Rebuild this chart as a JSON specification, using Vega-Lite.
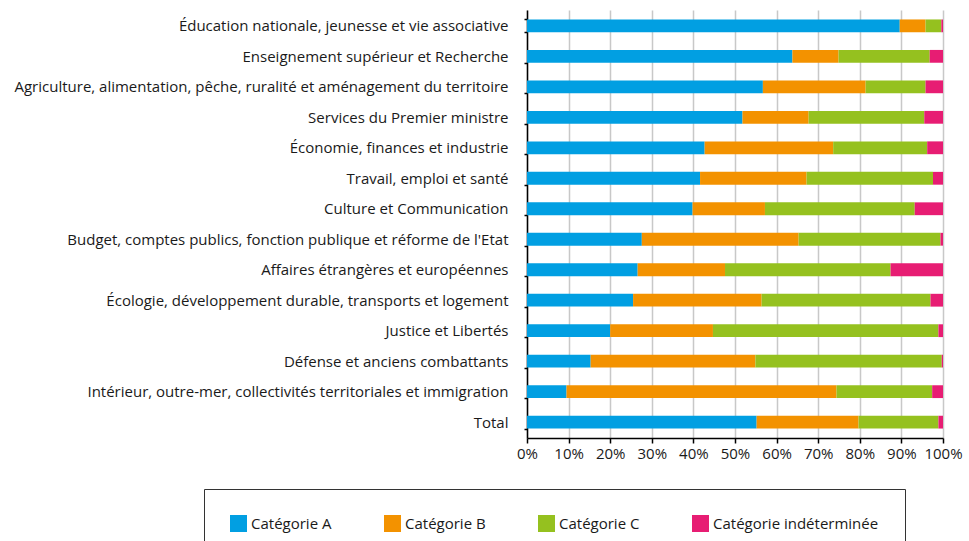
{
  "$schema": "https://vega.github.io/schema/vega-lite/v6.json",
  "width": 416,
  "height": 428,
  "autosize": {"type": "none"},
  "padding": {"left": 527, "top": 10, "right": 26, "bottom": 103},
  "config": {
    "view": {"stroke": null},
    "font": "Open Sans",
    "axis": {"labelFont": "Open Sans", "labelColor": "#1a1a1a", "labelFontSize": 15}
  },
  "data": {
    "values": [
      {"m": "Éducation nationale, jeunesse et vie associative", "cat": "Catégorie A", "o": 1, "v": 89.6},
      {"m": "Éducation nationale, jeunesse et vie associative", "cat": "Catégorie B", "o": 2, "v": 6.2},
      {"m": "Éducation nationale, jeunesse et vie associative", "cat": "Catégorie C", "o": 3, "v": 3.8},
      {"m": "Éducation nationale, jeunesse et vie associative", "cat": "Catégorie indéterminée", "o": 4, "v": 0.4},
      {"m": "Enseignement supérieur et Recherche", "cat": "Catégorie A", "o": 1, "v": 63.8},
      {"m": "Enseignement supérieur et Recherche", "cat": "Catégorie B", "o": 2, "v": 11.1},
      {"m": "Enseignement supérieur et Recherche", "cat": "Catégorie C", "o": 3, "v": 21.9},
      {"m": "Enseignement supérieur et Recherche", "cat": "Catégorie indéterminée", "o": 4, "v": 3.2},
      {"m": "Agriculture, alimentation, pêche, ruralité et aménagement du territoire", "cat": "Catégorie A", "o": 1, "v": 56.7},
      {"m": "Agriculture, alimentation, pêche, ruralité et aménagement du territoire", "cat": "Catégorie B", "o": 2, "v": 24.7},
      {"m": "Agriculture, alimentation, pêche, ruralité et aménagement du territoire", "cat": "Catégorie C", "o": 3, "v": 14.4},
      {"m": "Agriculture, alimentation, pêche, ruralité et aménagement du territoire", "cat": "Catégorie indéterminée", "o": 4, "v": 4.2},
      {"m": "Services du Premier ministre", "cat": "Catégorie A", "o": 1, "v": 51.8},
      {"m": "Services du Premier ministre", "cat": "Catégorie B", "o": 2, "v": 15.9},
      {"m": "Services du Premier ministre", "cat": "Catégorie C", "o": 3, "v": 27.8},
      {"m": "Services du Premier ministre", "cat": "Catégorie indéterminée", "o": 4, "v": 4.5},
      {"m": "Économie, finances et industrie", "cat": "Catégorie A", "o": 1, "v": 42.7},
      {"m": "Économie, finances et industrie", "cat": "Catégorie B", "o": 2, "v": 30.9},
      {"m": "Économie, finances et industrie", "cat": "Catégorie C", "o": 3, "v": 22.6},
      {"m": "Économie, finances et industrie", "cat": "Catégorie indéterminée", "o": 4, "v": 3.8},
      {"m": "Travail, emploi et santé", "cat": "Catégorie A", "o": 1, "v": 41.6},
      {"m": "Travail, emploi et santé", "cat": "Catégorie B", "o": 2, "v": 25.6},
      {"m": "Travail, emploi et santé", "cat": "Catégorie C", "o": 3, "v": 30.4},
      {"m": "Travail, emploi et santé", "cat": "Catégorie indéterminée", "o": 4, "v": 2.4},
      {"m": "Culture et Communication", "cat": "Catégorie A", "o": 1, "v": 39.8},
      {"m": "Culture et Communication", "cat": "Catégorie B", "o": 2, "v": 17.4},
      {"m": "Culture et Communication", "cat": "Catégorie C", "o": 3, "v": 36.0},
      {"m": "Culture et Communication", "cat": "Catégorie indéterminée", "o": 4, "v": 6.8},
      {"m": "Budget, comptes publics, fonction publique et réforme de l'Etat", "cat": "Catégorie A", "o": 1, "v": 27.6},
      {"m": "Budget, comptes publics, fonction publique et réforme de l'Etat", "cat": "Catégorie B", "o": 2, "v": 37.7},
      {"m": "Budget, comptes publics, fonction publique et réforme de l'Etat", "cat": "Catégorie C", "o": 3, "v": 34.1},
      {"m": "Budget, comptes publics, fonction publique et réforme de l'Etat", "cat": "Catégorie indéterminée", "o": 4, "v": 0.6},
      {"m": "Affaires étrangères et européennes", "cat": "Catégorie A", "o": 1, "v": 26.6},
      {"m": "Affaires étrangères et européennes", "cat": "Catégorie B", "o": 2, "v": 21.0},
      {"m": "Affaires étrangères et européennes", "cat": "Catégorie C", "o": 3, "v": 39.8},
      {"m": "Affaires étrangères et européennes", "cat": "Catégorie indéterminée", "o": 4, "v": 12.6},
      {"m": "Écologie, développement durable, transports et logement", "cat": "Catégorie A", "o": 1, "v": 25.5},
      {"m": "Écologie, développement durable, transports et logement", "cat": "Catégorie B", "o": 2, "v": 30.9},
      {"m": "Écologie, développement durable, transports et logement", "cat": "Catégorie C", "o": 3, "v": 40.6},
      {"m": "Écologie, développement durable, transports et logement", "cat": "Catégorie indéterminée", "o": 4, "v": 3.0},
      {"m": "Justice et Libertés", "cat": "Catégorie A", "o": 1, "v": 20.0},
      {"m": "Justice et Libertés", "cat": "Catégorie B", "o": 2, "v": 24.7},
      {"m": "Justice et Libertés", "cat": "Catégorie C", "o": 3, "v": 54.2},
      {"m": "Justice et Libertés", "cat": "Catégorie indéterminée", "o": 4, "v": 1.1},
      {"m": "Défense et anciens combattants", "cat": "Catégorie A", "o": 1, "v": 15.3},
      {"m": "Défense et anciens combattants", "cat": "Catégorie B", "o": 2, "v": 39.6},
      {"m": "Défense et anciens combattants", "cat": "Catégorie C", "o": 3, "v": 44.8},
      {"m": "Défense et anciens combattants", "cat": "Catégorie indéterminée", "o": 4, "v": 0.3},
      {"m": "Intérieur, outre-mer, collectivités territoriales et immigration", "cat": "Catégorie A", "o": 1, "v": 9.5},
      {"m": "Intérieur, outre-mer, collectivités territoriales et immigration", "cat": "Catégorie B", "o": 2, "v": 64.9},
      {"m": "Intérieur, outre-mer, collectivités territoriales et immigration", "cat": "Catégorie C", "o": 3, "v": 23.0},
      {"m": "Intérieur, outre-mer, collectivités territoriales et immigration", "cat": "Catégorie indéterminée", "o": 4, "v": 2.6},
      {"m": "Total", "cat": "Catégorie A", "o": 1, "v": 55.2},
      {"m": "Total", "cat": "Catégorie B", "o": 2, "v": 24.5},
      {"m": "Total", "cat": "Catégorie C", "o": 3, "v": 19.2},
      {"m": "Total", "cat": "Catégorie indéterminée", "o": 4, "v": 1.1}
    ]
  },
  "mark": {"type": "bar"},
  "encoding": {
    "y": {
      "field": "m",
      "type": "nominal",
      "sort": null,
      "title": null,
      "scale": {"paddingInner": 0.58, "paddingOuter": 0.31},
      "axis": {
        "domainColor": "#000000",
        "domainWidth": 1.5,
        "tickColor": "#000000",
        "tickSize": 3,
        "tickWidth": 1.5,
        "tickBand": "extent",
        "labelPadding": 16,
        "labelLimit": 600,
        "grid": false
      }
    },
    "x": {
      "field": "v",
      "type": "quantitative",
      "stack": "normalize",
      "title": null,
      "scale": {"domain": [0, 1], "nice": false},
      "axis": {
        "format": ".0%",
        "values": [0, 0.1, 0.2, 0.3, 0.4, 0.5, 0.6, 0.7, 0.8, 0.9, 1],
        "grid": true,
        "gridColor": "#c8c8c8",
        "gridWidth": 1.5,
        "domainColor": "#000000",
        "domainWidth": 1.5,
        "tickColor": "#000000",
        "tickSize": 5,
        "tickWidth": 1.5,
        "labelPadding": 3,
        "labelFlush": false
      }
    },
    "color": {
      "field": "cat",
      "type": "nominal",
      "scale": {
        "domain": ["Catégorie A", "Catégorie B", "Catégorie C", "Catégorie indéterminée"],
        "range": ["#019fe2", "#f39200", "#95c11f", "#e71d73"]
      },
      "legend": {
        "title": null,
        "orient": "none",
        "legendX": -323,
        "legendY": 479,
        "direction": "horizontal",
        "columns": 4,
        "symbolType": "square",
        "symbolSize": 289,
        "symbolStrokeWidth": 0,
        "symbolOpacity": 1,
        "labelFontSize": 15,
        "labelFont": "Open Sans",
        "labelColor": "#1a1a1a",
        "labelOffset": 4,
        "columnPadding": 52,
        "padding": 26,
        "strokeColor": "#333333",
        "labelLimit": 300
      }
    },
    "order": {"field": "o", "type": "quantitative"}
  }
}
